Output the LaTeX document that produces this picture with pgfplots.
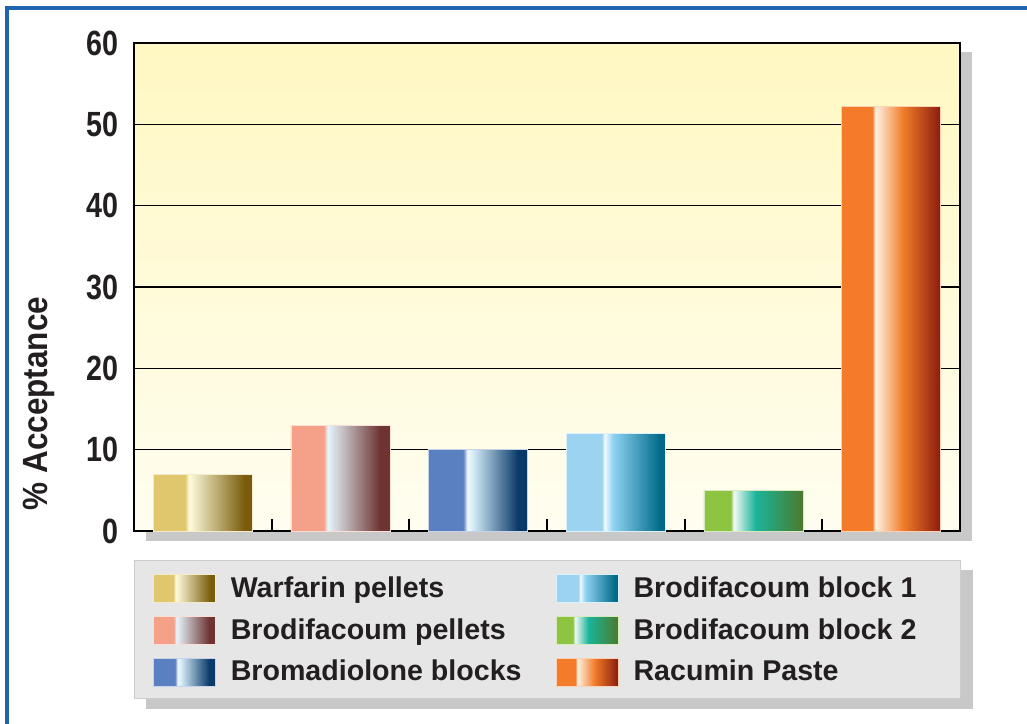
\documentclass[border=0pt]{standalone}
\usepackage{pgfplots}
\pgfplotsset{compat=1.18}
\usepackage{fontspec}
\setmainfont{Liberation Sans}
\newfontfamily\condfont{Liberation Sans}[FakeStretch=0.82]
\newfontfamily\labfont{Liberation Sans}[FakeStretch=0.9]
\definecolor{txt}{HTML}{231F20}
\definecolor{frameblue}{HTML}{1D65AC}
\definecolor{shadowgray}{HTML}{C8C8C8}
\definecolor{legfill}{HTML}{E6E6E6}
\definecolor{legdraw}{HTML}{CCCCCC}
\definecolor{bgtop}{HTML}{FFF8C2}
\definecolor{bgbot}{HTML}{FFFDF0}
% Warfarin
\definecolor{wa1}{HTML}{E0C66C}\definecolor{waw}{HTML}{FFFCDC}\definecolor{wa3}{HTML}{7A5C0C}
% Brodifacoum pellets
\definecolor{bp1}{HTML}{F5A18A}\definecolor{bpw}{HTML}{E6F6FD}\definecolor{bp3}{HTML}{6E3432}
% Bromadiolone
\definecolor{bm1}{HTML}{5B80C2}\definecolor{bmw}{HTML}{F4FAFF}\definecolor{bmm}{HTML}{D2EAF6}\definecolor{bm3}{HTML}{0A3A6A}
% Block 1
\definecolor{b11}{HTML}{9BD3F0}\definecolor{b1w}{HTML}{F4FBFF}\definecolor{b1m}{HTML}{8ED3F2}\definecolor{b13}{HTML}{006A88}
% Block 2
\definecolor{b21}{HTML}{8DC442}\definecolor{b2w}{HTML}{F2F9F4}\definecolor{b2m}{HTML}{1AB49A}\definecolor{b23}{HTML}{4A7A2A}
% Racumin
\definecolor{ra1}{HTML}{F37B2A}\definecolor{raw}{HTML}{FFF2E4}\definecolor{ram}{HTML}{F07C28}\definecolor{ra3}{HTML}{8A1B10}
\pgfdeclarehorizontalshading{shwa}{100bp}{color(0bp)=(wa1); color(41bp)=(wa1); color(43bp)=(waw); color(71bp)=(wa3); color(100bp)=(wa3)}
\pgfdeclarehorizontalshading{shbp}{100bp}{color(0bp)=(bp1); color(41.5bp)=(bp1); color(43.5bp)=(bpw); color(70bp)=(bp3); color(100bp)=(bp3)}
\pgfdeclarehorizontalshading{shbm}{100bp}{color(0bp)=(bm1); color(42.5bp)=(bm1); color(44.5bp)=(bmw); color(47.5bp)=(bmm); color(70bp)=(bm3); color(100bp)=(bm3)}
\pgfdeclarehorizontalshading{shbo}{100bp}{color(0bp)=(b11); color(43bp)=(b11); color(44.3bp)=(b1w); color(48.5bp)=(b1m); color(72.5bp)=(b13); color(100bp)=(b13)}
\pgfdeclarehorizontalshading{shbt}{100bp}{color(0bp)=(b21); color(38.5bp)=(b21); color(40bp)=(b2w); color(51bp)=(b2m); color(75bp)=(b23); color(100bp)=(b23)}
\pgfdeclarehorizontalshading{shra}{100bp}{color(0bp)=(ra1); color(40.5bp)=(ra1); color(42bp)=(raw); color(56bp)=(ram); color(75bp)=(ra3); color(100bp)=(ra3)}
\begin{document}
\begin{tikzpicture}
\useasboundingbox (0,0) rectangle (513.5pt,361.5pt);
\fill[white] (0,0) rectangle (513.5pt,361.5pt);
\draw[frameblue, line width=1.6pt] (3.5pt,-10pt) rectangle (530pt,357.5pt);
% plot shadow
\fill[shadowgray] (73pt,91pt) rectangle (486pt,335.5pt);
% legend box and shadow
\fill[shadowgray] (73pt,7pt) rectangle (486.5pt,76.5pt);
\filldraw[fill=legfill, draw=legdraw, line width=0.5pt] (67pt,12.5pt) rectangle (480pt,81.5pt);
\begin{axis}[
  at={(67pt,96pt)}, anchor=south west,
  scale only axis, width=413pt, height=244pt,
  xmin=-0.5, xmax=5.5, ymin=0, ymax=60,
  ytick={0,10,...,60},
  xtick={0.5,1.5,2.5,3.5,4.5}, xticklabels={},
  xtick pos=lower, ytick pos=left,
  tick align=inside, major tick length=6pt,
  ytick style={draw=none},
  xtick style={black, line width=0.9pt},
  ymajorgrids, grid style={black, line width=0.6pt},
  axis line style={black, line width=0.9pt},
  axis background/.style={top color=bgtop, bottom color=bgbot},
  /pgf/number format/assume math mode=true,
  yticklabel style={font=\condfont\bfseries\fontsize{17.5}{17.5}\selectfont, text=txt, inner sep=0pt, xshift=-7.5pt},
  ylabel={\% Acceptance},
  every axis y label/.style={at={(axis description cs:-0.115,0.261)}, rotate=90, anchor=center, font=\labfont\bfseries\fontsize{17.5}{17.5}\selectfont, text=txt},
  legend columns=2,
  legend image code/.code={\path[#1] (0pt,-7pt) rectangle (31pt,7pt);},
  legend style={at={(axis description cs:0.023,-0.0881)}, anchor=north west, draw=none, fill=none,
    inner sep=0pt, outer sep=0pt, column sep=0pt, row sep=6.5pt,
    font=\bfseries\fontsize{14.3}{16}\selectfont, text=txt,
    nodes={inner sep=0pt},
    /tikz/every odd column/.append style={column sep=7.5pt}},
  legend cell align=left,
]
\addplot[ybar, bar width=0.72, bar shift=0pt, shading=shwa, draw=wa1!35!white, line width=0.4pt] coordinates {(0,7)};
\addlegendentry{\makebox[162.5pt][l]{Warfarin pellets}}
\addplot[ybar, bar width=0.72, bar shift=0pt, shading=shbo, draw=b11!35!white, line width=0.4pt] coordinates {(3,12)};
\addlegendentry{\makebox[162.5pt][l]{Brodifacoum block 1}}
\addplot[ybar, bar width=0.72, bar shift=0pt, shading=shbp, draw=bp1!35!white, line width=0.4pt] coordinates {(1,13)};
\addlegendentry{\makebox[162.5pt][l]{Brodifacoum pellets}}
\addplot[ybar, bar width=0.72, bar shift=0pt, shading=shbt, draw=b21!35!white, line width=0.4pt] coordinates {(4,5)};
\addlegendentry{\makebox[162.5pt][l]{Brodifacoum block 2}}
\addplot[ybar, bar width=0.72, bar shift=0pt, shading=shbm, draw=bm1!35!white, line width=0.4pt] coordinates {(2,10)};
\addlegendentry{\makebox[162.5pt][l]{Bromadiolone blocks}}
\addplot[ybar, bar width=0.72, bar shift=0pt, shading=shra, draw=ra1!35!white, line width=0.4pt] coordinates {(5,52.2)};
\addlegendentry{\makebox[162.5pt][l]{Racumin Paste}}
\end{axis}
\end{tikzpicture}
\end{document}
